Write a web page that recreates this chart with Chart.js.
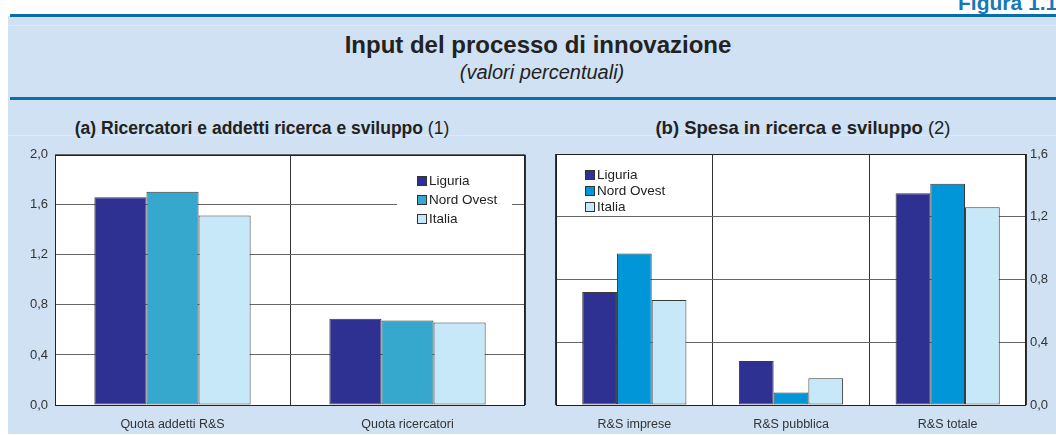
<!DOCTYPE html>
<html>
<head>
<meta charset="utf-8">
<script src="https://cdn.jsdelivr.net/npm/chart.js@4.4.1/dist/chart.umd.min.js"></script>
<style>
  html, body { margin: 0; padding: 0; background: #fff; }
  body { width: 1056px; height: 435px; position: relative; overflow: hidden;
         font-family: "Liberation Sans", Arial, sans-serif; color: #222; }
  .abs { position: absolute; }
  #bg { left: 8px; top: 16px; width: 1048px; height: 418px; background: #cfe1f2; }
  .rule { left: 10px; width: 1046px; height: 3px; background: #0a6ea9; }
  .faint { left: 8px; width: 1048px; height: 1px; background: #dce9f6; }
  #fig { left: 958px; top: -9px; font-size: 21px; font-weight: bold; color: #1778b8; white-space: nowrap; }
  .center { transform: translateX(-50%); white-space: nowrap; }
  #title { left: 538px; top: 31px; font-size: 24px; font-weight: bold; }
  #subtitle { left: 542px; top: 61px; font-size: 20px; font-style: italic; }
  .ptitle { top: 118px; font-size: 17.5px; font-weight: bold; }
  .ptitle span { font-weight: normal; }
  canvas { position: absolute; }
</style>
</head>
<body>
<div id="bg" class="abs"></div>
<div class="abs rule" style="top:14px"></div>
<div class="abs rule" style="top:97px"></div>
<div class="abs faint" style="top:25px"></div>
<div class="abs faint" style="top:135px"></div>
<div id="fig" class="abs">Figura 1.1</div>
<div id="title" class="abs center">Input del processo di innovazione</div>
<div id="subtitle" class="abs center">(valori percentuali)</div>
<div class="abs center ptitle" style="left:262px">(a) Ricercatori e addetti ricerca e sviluppo <span>(1)</span></div>
<div class="abs center ptitle" style="left:803px;top:117px;font-size:18.5px">(b) Spesa in ricerca e sviluppo <span>(2)</span></div>

<canvas id="chartA" width="540" height="295" style="left:0;top:140px"></canvas>
<canvas id="chartB" width="516" height="295" style="left:540px;top:140px"></canvas>

<script>
// series names
const seriesNames = ["Liguria", "Nord Ovest", "Italia"];

// (a) researchers
const catsA = ["Quota addetti R&S", "Quota ricercatori"];
const ligA = [1.66, 0.69];
const nordA = [1.705, 0.675];
const itaA = [1.515, 0.66];
const ticksA = [0, 0.4, 0.8, 1.2, 1.6, 2.0];

// (b) R&D spending
const catsB = ["R&S imprese", "R&S pubblica", "R&S totale"];
const ligB = [0.72, 0.28, 1.35];
const nordB = [0.965, 0.08, 1.41];
const itaB = [0.67, 0.17, 1.26];
const ticksB = [0, 0.4, 0.8, 1.2, 1.6];

const COL_LIG = "#2e3192";
const COL_ITA = "#c6e8f8";
const FONT = "'Liberation Sans', Arial, sans-serif";

function fmt(v) {
  return Number(v).toFixed(1).replace(".", ",");
}

// white plot background
const plotBg = {
  id: "plotBg",
  beforeDraw(chart) {
    const a = chart.chartArea;
    chart.ctx.save();
    chart.ctx.fillStyle = "#fff";
    chart.ctx.fillRect(a.left, a.top, a.right - a.left, a.bottom - a.top);
    chart.ctx.restore();
  }
};

// legend drawn inside the plot area
const innerLegend = {
  id: "innerLegend",
  afterDatasetsDraw(chart, args, opts) {
    const ctx = chart.ctx;
    const ds = chart.data.datasets;
    ctx.save();
    if (opts.box) {
      ctx.fillStyle = "#fff";
      ctx.fillRect(opts.box[0], opts.box[1], opts.box[2], opts.box[3]);
    }
    ctx.font = opts.fontSize + "px " + FONT;
    ctx.textBaseline = "middle";
    ds.forEach((d, i) => {
      const y = opts.y + i * opts.step;
      ctx.fillStyle = d.backgroundColor;
      ctx.fillRect(opts.x + 0.5, y - 4.5, 9, 9);
      ctx.strokeStyle = "#333";
      ctx.lineWidth = 1;
      ctx.strokeRect(opts.x + 0.5, y - 4.5, 9, 9);
      ctx.fillStyle = "#222";
      ctx.fillText(d.label, opts.x + 12, y + 0.5);
    });
    ctx.restore();
  }
};

// black frame around the plot area
const frame = {
  id: "frame",
  afterDraw(chart) {
    const a = chart.chartArea;
    const ctx = chart.ctx;
    ctx.save();
    ctx.strokeStyle = "#222";
    ctx.lineWidth = 1;
    ctx.strokeRect(Math.round(a.left) + 0.5, Math.round(a.top) + 0.5,
      Math.round(a.right - a.left) - 1, Math.round(a.bottom - a.top));
    ctx.restore();
  }
};

function makeDatasets(lig, nord, ita, nordColor) {
  const base = { borderColor: "#3a3a3a", borderWidth: 1, borderSkipped: false,
    barPercentage: 1, categoryPercentage: 0.665 };
  return [
    Object.assign({ label: seriesNames[0], data: lig, backgroundColor: COL_LIG }, base),
    Object.assign({ label: seriesNames[1], data: nord, backgroundColor: nordColor }, base),
    Object.assign({ label: seriesNames[2], data: ita, backgroundColor: COL_ITA }, base)
  ];
}

function makeChart(id, cats, datasets, ticks, side, padding, legendOpts) {
  const max = ticks[ticks.length - 1];
  const yWidth = side === "left" ? 55 : 30;
  return new Chart(document.getElementById(id), {
    type: "bar",
    data: { labels: cats, datasets },
    options: {
      responsive: false,
      maintainAspectRatio: false,
      animation: false,
      layout: { padding },
      plugins: {
        legend: { display: false },
        tooltip: { enabled: false },
        innerLegend: legendOpts
      },
      scales: {
        x: {
          grid: { color: "#333", drawTicks: false, offset: true },
          border: { display: false },
          ticks: { color: "#333", font: { size: 12.5, family: FONT }, padding: 12 },
          afterFit: s => { s.height = 30; }
        },
        y: {
          position: side,
          min: 0, max,
          afterBuildTicks: s => { s.ticks = ticks.map(v => ({ value: v })); },
          grid: { color: "#666", drawTicks: false },
          border: { display: false },
          ticks: { color: "#333", font: { size: 13, family: FONT },
            padding: side === "left" ? 7 : 4, callback: v => fmt(v) },
          afterFit: s => { s.width = yWidth; }
        }
      }
    },
    plugins: [plotBg, innerLegend, frame]
  });
}

makeChart("chartA", catsA, makeDatasets(ligA, nordA, itaA, "#36a8cd"), ticksA, "left",
  { top: 14, right: 15, left: 0, bottom: 0 },
  { x: 417, y: 41, step: 19, fontSize: 13.5, box: [397, 60, 115, 10] });

makeChart("chartB", catsB, makeDatasets(ligB, nordB, itaB, "#0096d8"), ticksB, "right",
  { top: 14, right: 0, left: 16, bottom: 0 },
  { x: 45, y: 35, step: 16, fontSize: 13.5 });
</script>
</body>
</html>
